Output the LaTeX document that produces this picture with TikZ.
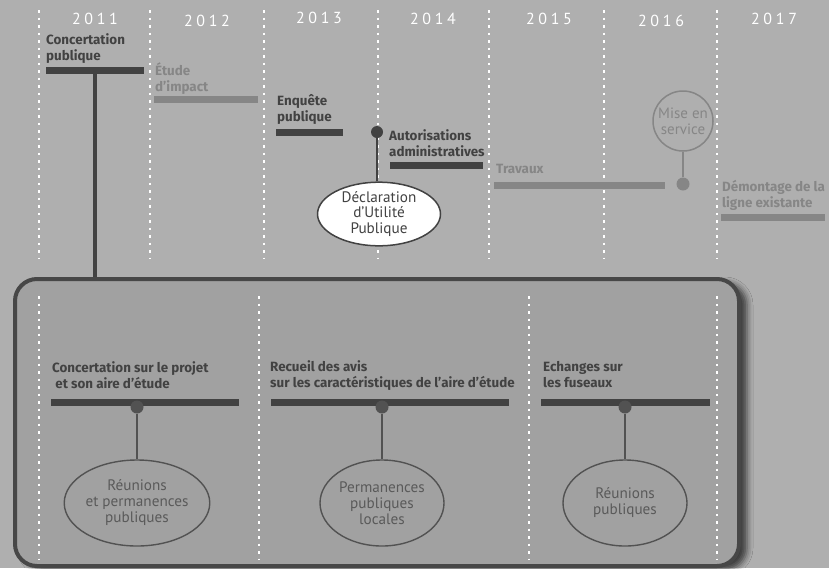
\documentclass[tikz,border=0pt]{standalone}
\usepackage{fontspec}
\setmainfont{PT Sans}
\newfontfamily\lblfont{Fira Sans}
\newfontfamily\yearfont[LetterSpace=23]{PT Sans}
\usetikzlibrary{shapes.geometric,shadows.blur}
\definecolor{bg}{HTML}{AFAFAF}
\definecolor{boxfill}{HTML}{A1A1A1}
\definecolor{dk}{HTML}{424242}
\definecolor{gr}{HTML}{868686}
\definecolor{boxline}{HTML}{474747}
\definecolor{elltext}{HTML}{5A5A5A}
\definecolor{ellline}{HTML}{525252}
\tikzset{
  wdots/.style={white, line width=2.6pt, dash pattern=on 2.6pt off 4.9pt},
  yearlbl/.style={text=white, font=\yearfont\fontsize{16}{18}\selectfont, inner sep=0pt, anchor=base},
  lbl/.style={text=dk, font=\lblfont\bfseries\fontsize{13.4}{15.8}\selectfont, inner sep=0pt, anchor=base west, align=left},
  glbl/.style={lbl, text=gr},
  darkbar/.style={fill=dk, inner sep=0pt, minimum height=7pt, anchor=north west},
  graybar/.style={fill=gr, inner sep=0pt, minimum height=7pt, anchor=north west},
  mainbox/.style={draw=boxline, line width=4pt, fill=boxfill, rounded corners=22pt, inner sep=0pt,
    blur shadow={shadow xshift=8pt, shadow yshift=-4pt, shadow opacity=65, shadow blur radius=6pt}},
  dotdk/.style={circle, fill=dk, inner sep=0pt, minimum size=12pt},
  dotgr/.style={circle, fill=gr, inner sep=0pt, minimum size=13pt},
  dotbox/.style={circle, fill=ellline, inner sep=0pt, minimum size=13pt},
  boxell/.style={ellipse, draw=ellline, line width=1.4pt, inner sep=0pt, minimum width=124pt, minimum height=86pt,
    text=elltext, align=center, font=\fontsize{15.2}{16}\selectfont},
  dupell/.style={ellipse, draw=dk, fill=white, line width=1.5pt, inner sep=0pt, minimum width=123pt, minimum height=60pt,
    text=dk, align=center, font=\fontsize{15.2}{15.5}\selectfont},
  mscirc/.style={circle, draw=gr, line width=1.5pt, inner sep=0pt, minimum size=60pt,
    text=gr, align=center, font=\fontsize{15}{16}\selectfont},
  connd/.style={draw=dk, line width=1.6pt},
  conng/.style={draw=gr, line width=1.6pt},
  connb/.style={draw=ellline, line width=1.8pt},
  bigconn/.style={draw=dk, line width=4pt},
}
\begin{document}
\begin{tikzpicture}[x=1pt,y=-1pt]
\useasboundingbox (0,0) rectangle (829,568);
\fill[bg] (0,0) rectangle (829,568);

% frame
\node[mainbox, minimum width=724pt, minimum height=287pt, anchor=north west] (box) at (13,277) {};

% dotted year separators
\foreach \x in {39,150,264,378,489,604,717} \draw[wdots] (\x,10) -- (\x,258);
\foreach \x in {39,259,529,717} \draw[wdots] (\x,296) -- (\x,560);

% years
\node[yearlbl] (y11) at (95,24) {2011};
\node[yearlbl] (y12) at (207,26) {2012};
\node[yearlbl] (y13) at (319,23) {2013};
\node[yearlbl] (y14) at (433,24) {2014};
\node[yearlbl] (y15) at (549,24) {2015};
\node[yearlbl] (y16) at (661,26) {2016};
\node[yearlbl] (y17) at (774,24) {2017};

% top bars
\node[darkbar, minimum width=98pt] (cbar) at (46,67) {};
\node[graybar, minimum width=104pt] (ebar) at (154,96) {};
\node[darkbar, minimum width=67pt] (qbar) at (276,129) {};
\node[darkbar, minimum width=93pt] (abar) at (390,162) {};
\node[graybar, minimum width=171pt] (tbar) at (494,182) {};
\node[graybar, minimum width=104pt] (dbar) at (721,214) {};

% top labels (anchor = baseline of the last line)
\node[lbl] (lc) at (46,60) {Concertation\\publique};
\node[glbl] (le) at (155,91) {Étude\\d’impact};
\node[lbl] (lq) at (277,121) {Enquête\\publique};
\node[lbl] (la) at (389,156) {Autorisations\\administratives};
\node[glbl] (lt) at (496,173) {Travaux};
\node[glbl] (ld) at (722,207) {Démontage de la\\ligne existante};

% DUP
\node[dotdk] (dupdot) at (377,132) {};
\node[dupell] (dup) at (379,214) {Déclaration\\d'Utilité\\Publique};
\draw[connd] (dupdot) -- (dupdot |- dup.north);

% Mise en service
\node[dotgr] (msdot) at (683,184) {};
\node[mscirc] (ms) at (683,121) {Mise en\\service};
\draw[conng] (msdot) -- (ms);

% link to frame
\draw[bigconn] (cbar.south) -- (cbar.south |- box.north);

% frame content
\node[darkbar, minimum width=188pt] (b1) at (51,399) {};
\node[darkbar, minimum width=238pt] (b2) at (271,399) {};
\node[darkbar, minimum width=169pt] (b3) at (541,399) {};

\node[lbl] (l1) at (52,388) {Concertation sur le projet\\\ et son aire d’étude};
\node[lbl] (l2) at (270,387) {Recueil des avis\\sur les caractéristiques de l’aire d’étude};
\node[lbl] (l3) at (543,387) {Echanges sur\\les fuseaux};

\node[dotbox] (d1) at (137,407) {};
\node[dotbox] (d2) at (382,407) {};
\node[dotbox] (d3) at (625,407) {};

\node[boxell] (e1) at (137,503) {Réunions\\et permanences\\publiques};
\node[boxell] (e2) at (382,503) {Permanences\\publiques\\locales};
\node[boxell] (e3) at (625,503) {Réunions\\publiques};

\draw[connb] (d1) -- (e1);
\draw[connb] (d2) -- (e2);
\draw[connb] (d3) -- (e3);
\end{tikzpicture}
\end{document}
